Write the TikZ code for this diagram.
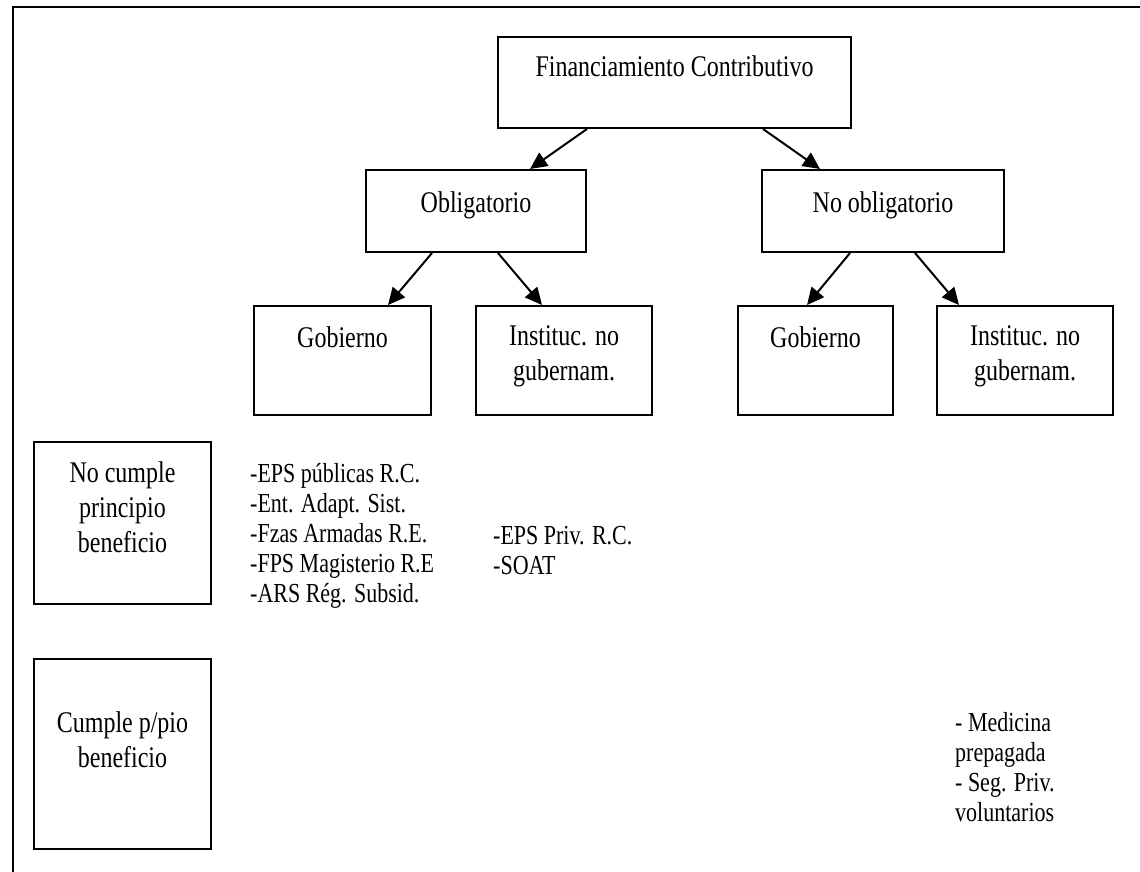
\documentclass[tikz,border=0pt]{standalone}
\usepackage{fontspec}
\setmainfont{Liberation Serif}
\newfontfamily\tallserif[FakeStretch=0.8]{Liberation Serif}
\usetikzlibrary{arrows.meta}

\begin{document}
\begin{tikzpicture}[
    x=1pt, y=-1pt,
    box/.style={draw, rectangle, line width=2pt, inner sep=0pt},
    boxtext/.style={anchor=north, inner sep=0pt, align=center, font=\tallserif\fontsize{30}{35}\selectfont},
    listtext/.style={anchor=north west, inner sep=0pt, align=left, font=\tallserif\fontsize{27.5}{30}\selectfont},
    arrow/.style={-{Triangle[length=17pt,width=16pt]}, line width=2pt}
]
    \useasboundingbox (0,0) rectangle (1140,872);
    \draw[line width=1.4pt] (1140,7) -- (13,7) -- (13,872);

    \node[box, minimum width=353pt, minimum height=91pt, label={[boxtext, yshift=-19pt]north:Financiamiento Contributivo}] (fin) at (674.5,82.5) {};
    \node[box, minimum width=220pt, minimum height=82pt, label={[boxtext, yshift=-22.6pt]north:Obligatorio}] (oblig) at (476,211) {};
    \node[box, minimum width=242pt, minimum height=82pt, label={[boxtext, yshift=-22.6pt]north:No obligatorio}] (noob) at (883,211) {};
    \node[box, minimum width=177pt, minimum height=109pt, label={[boxtext, yshift=-21.6pt]north:Gobierno}] (gob1) at (342.5,360.5) {};
    \node[box, minimum width=176pt, minimum height=109pt, label={[boxtext, yshift=-20.6pt]north:{Instituc. no\\gubernam.}}] (inst1) at (564,360.5) {};
    \node[box, minimum width=155pt, minimum height=109pt, label={[boxtext, yshift=-21.6pt]north:Gobierno}] (gob2) at (815.5,360.5) {};
    \node[box, minimum width=176pt, minimum height=109pt, label={[boxtext, yshift=-20.6pt]north:{Instituc. no\\gubernam.}}] (inst2) at (1025,360.5) {};
    \node[box, minimum width=177pt, minimum height=162pt, label={[boxtext, yshift=-20.6pt]north:{No cumple\\principio\\beneficio}}] (nocumple) at (122.5,523) {};
    \node[box, minimum width=177pt, minimum height=190pt, label={[boxtext, yshift=-53.6pt]north:{Cumple p/pio\\beneficio}}] (cumple) at (122.5,754) {};

    \draw[arrow] ([xshift=-87.5pt]fin.south) -- ([xshift=54pt]oblig.north);
    \draw[arrow] ([xshift=88.5pt]fin.south) -- ([xshift=-63pt]noob.north);
    \draw[arrow] ([xshift=-44pt]oblig.south) -- ([xshift=45.5pt]gob1.north);
    \draw[arrow] ([xshift=22pt]oblig.south) -- ([xshift=-22pt]inst1.north);
    \draw[arrow] ([xshift=-33pt]noob.south) -- ([xshift=-8.5pt]gob2.north);
    \draw[arrow] ([xshift=32pt]noob.south) -- ([xshift=-66pt]inst2.north);

    \node[listtext] (publicas) at (250,463.5) {-EPS públicas R.C.\\-Ent. Adapt. Sist.\\-Fzas Armadas R.E.\\-FPS Magisterio R.E\\-ARS Rég. Subsid.};
    \node[listtext] (privadas) at (493,526) {-EPS Priv. R.C.\\-SOAT};
    \node[listtext] (voluntarios) at (955,712) {- Medicina\\prepagada\\- Seg. Priv.\\voluntarios};
\end{tikzpicture}
\end{document}
